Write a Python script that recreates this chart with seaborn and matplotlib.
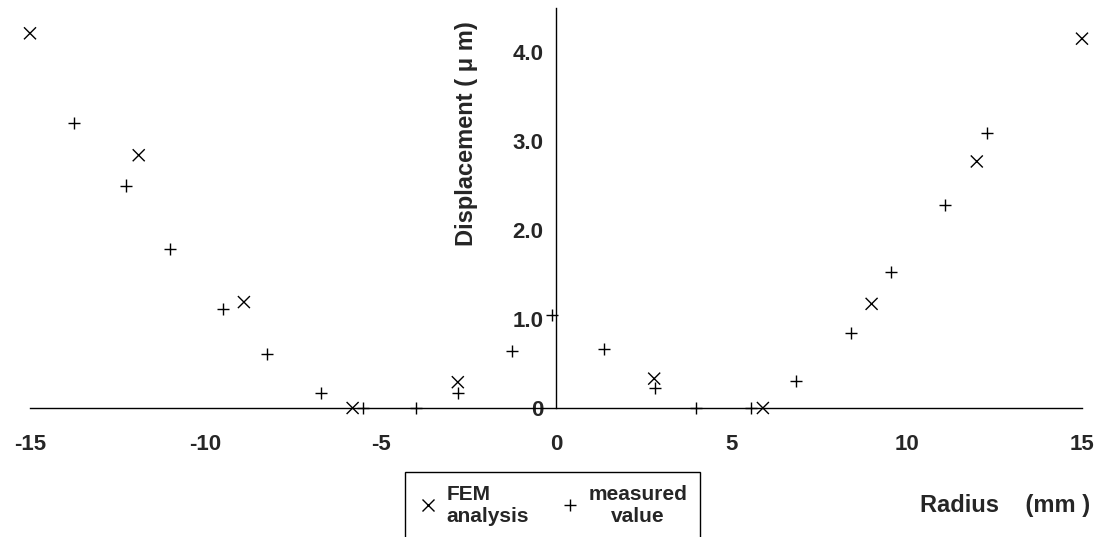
import pandas as pd
import seaborn as sns
import matplotlib.pyplot as plt
from matplotlib.lines import Line2D
from matplotlib.ticker import MultipleLocator, FixedLocator

# FEM analysis (x markers)
fem_radius = [-15.0, -11.9, -8.9, -5.8, -2.8, 2.8, 5.9, 9.0, 12.0, 15.0]
fem_disp = [4.21, 2.84, 1.19, 0.0, 0.29, 0.33, 0.0, 1.17, 2.77, 4.15]

# measured value (+ markers)
meas_radius = [-13.75, -12.25, -11.0, -9.5, -8.25, -6.7, -5.5, -4.0, -2.8, -1.25, -0.12,
               1.37, 2.83, 4.0, 5.57, 6.85, 8.4, 9.55, 11.1, 12.28]
meas_disp = [3.2, 2.5, 1.79, 1.11, 0.61, 0.17, 0.0, 0.0, 0.17, 0.64, 1.05,
             0.66, 0.22, 0.0, 0.0, 0.30, 0.84, 1.53, 2.28, 3.09]

x_ticks = [-15, -10, -5, 0, 5, 10, 15]
y_ticks = [0, 1, 2, 3, 4]
y_tick_labels = ['0', '1.0', '2.0', '3.0', '4.0']

df = pd.concat([
    pd.DataFrame({'radius': fem_radius, 'disp': fem_disp, 'kind': 'FEM analysis'}),
    pd.DataFrame({'radius': meas_radius, 'disp': meas_disp, 'kind': 'measured value'}),
])

sns.set_style("white")
plt.rcParams['font.family'] = ['Liberation Sans', 'DejaVu Sans']
plt.rcParams['font.weight'] = 'bold'

fig = plt.figure(figsize=(11.02, 5.37), dpi=100)
ax = fig.add_axes([30 / 1102, 129 / 537, 1052 / 1102, 400.5 / 537])

sns.scatterplot(data=df, x='radius', y='disp', style='kind',
                markers={'FEM analysis': 'x', 'measured value': '+'},
                color='black', s=75, linewidth=1.0, legend=False,
                clip_on=False, zorder=3, ax=ax)

ax.set_xlim(-15, 15)
ax.set_ylim(0, 4.5)

# axes crossing at the origin
ax.spines['left'].set_position(('data', 0))
ax.spines['bottom'].set_position(('data', 0))
ax.spines['top'].set_visible(False)
ax.spines['right'].set_visible(False)
for s in ['left', 'bottom']:
    ax.spines[s].set_color('black')
    ax.spines[s].set_linewidth(1.0)

ax.xaxis.set_major_locator(FixedLocator(x_ticks))
ax.set_xticklabels([str(t) for t in x_ticks])
ax.yaxis.set_major_locator(FixedLocator(y_ticks))
ax.set_yticklabels(y_tick_labels)
ax.yaxis.set_minor_locator(MultipleLocator(0.5))

ax.tick_params(axis='x', direction='in', length=5, width=1, color='black',
               pad=19, labelsize=16)
ax.tick_params(axis='y', which='both', direction='in', length=4, width=1,
               color='black', pad=9, labelsize=16)

ax.set_xlabel('Radius    (mm )', fontsize=17, fontweight='bold')
ax.xaxis.set_label_coords((1005 - 30) / 1052, (408 - 494) / 400.5)
ax.set_ylabel('Displacement ( \u03bc m)', fontsize=17, fontweight='bold')
ax.yaxis.set_label_coords((478 - 30) / 1052, (408 - 134) / 400.5)

handles = [
    Line2D([], [], marker='x', color='black', linestyle='none', markersize=8, markeredgewidth=1),
    Line2D([], [], marker='+', color='black', linestyle='none', markersize=8, markeredgewidth=1),
]
leg = ax.legend(handles, ['FEM\nanalysis', 'measured\nvalue'], ncol=2,
                loc='upper left', bbox_to_anchor=(405 / 1102, 65 / 537),
                bbox_transform=fig.transFigure, frameon=True, fancybox=False,
                edgecolor='black', framealpha=1, borderaxespad=0,
                handlelength=1.0, handletextpad=0.4, columnspacing=1.45,
                prop={'size': 15, 'weight': 'bold'}, borderpad=0.6,
                labelspacing=0.2)
leg.get_frame().set_linewidth(1.0)
leg.get_texts()[1].set_multialignment('center')

fig.savefig('out.png', dpi=100)
